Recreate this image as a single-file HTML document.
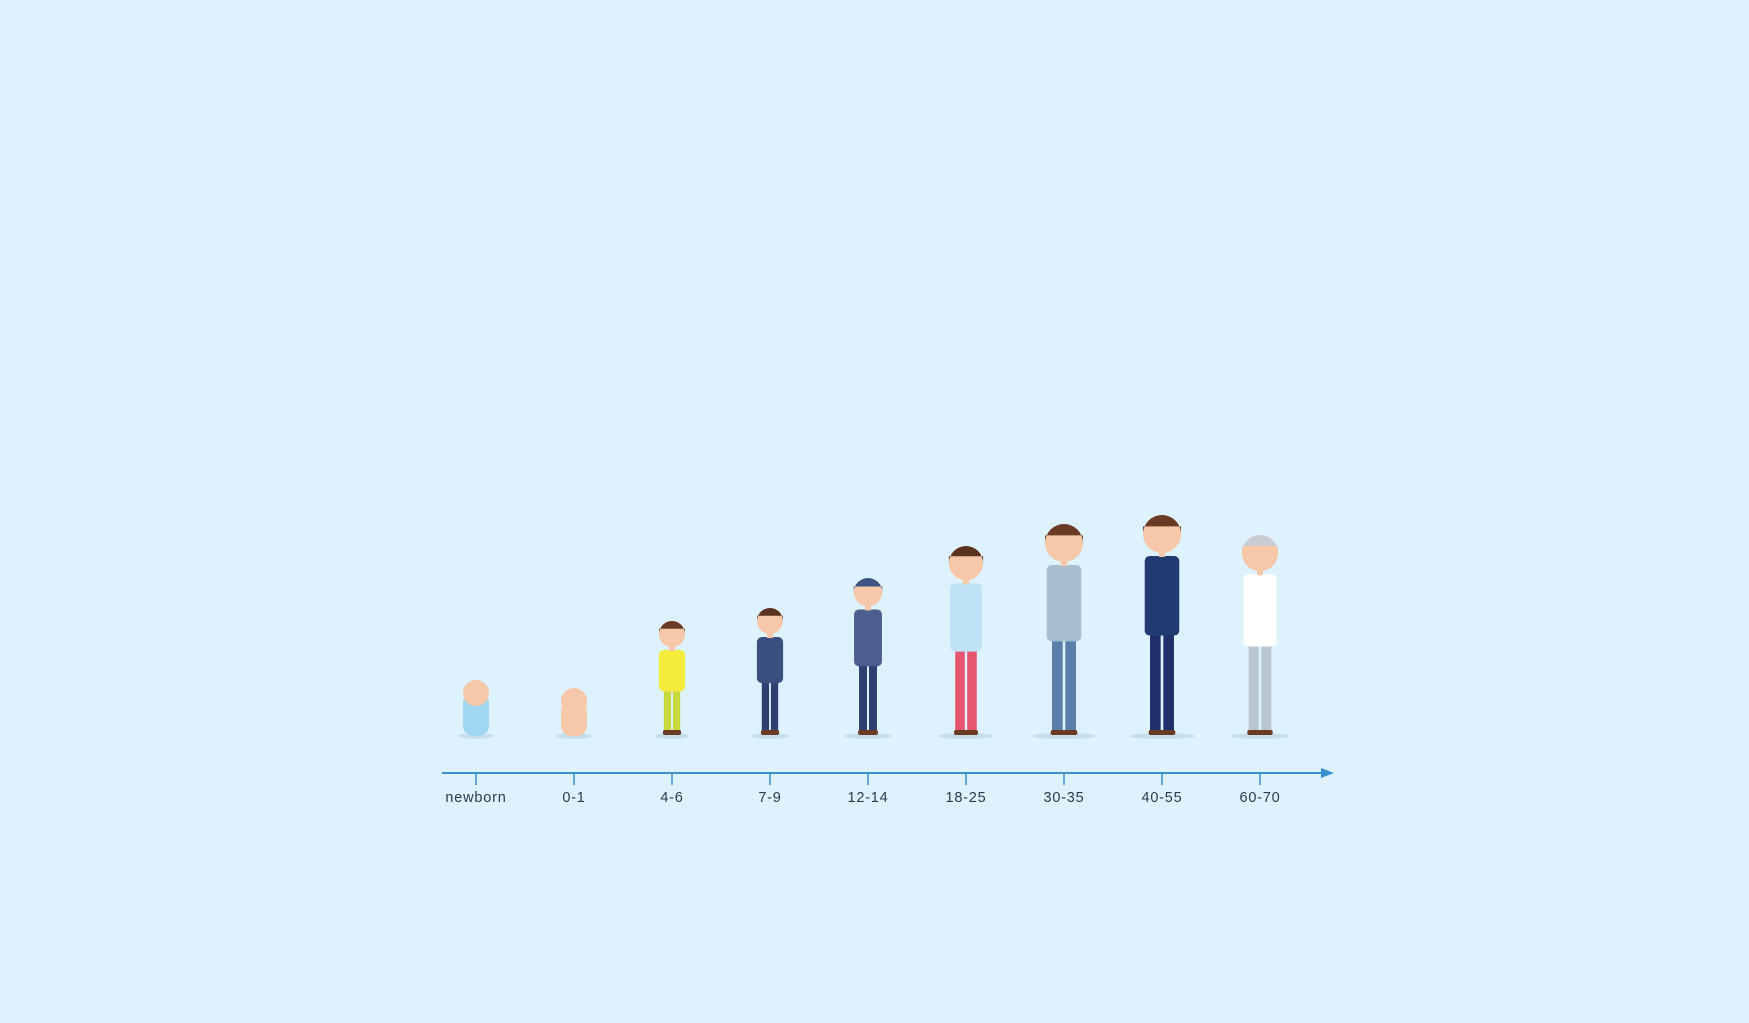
<!DOCTYPE html>
<html><head><meta charset="utf-8"><style>
html,body{margin:0;padding:0;background:#def2fd;}
svg{display:block}
text{font-family:"Liberation Sans",sans-serif;}
</style></head><body>
<svg id="chart" width="1749" height="1023" viewBox="0 0 1749 1023">
<rect x="0" y="0" width="1749" height="1023" fill="#def2fd"/>
<g id="figs"></g>
<g id="axis"></g>
</svg>
<script>
const categories=["newborn","0-1","4-6","7-9","12-14","18-25","30-35","40-55","60-70"];
const heights=[56,48,115,128,158,190,212,221,201];
const shirtColors=["#9fd6f2","#f6c7a8","#f3ec3a","#3b4f7e","#4d5f8f","#bfe3f5","#a8bfd0","#223a74","#ffffff"];
const legColors=["#9fd6f2","#f6c7a8","#c8d83a","#2f3f70","#2f3f70","#e8556f","#5a7fa8","#1f2f6a","#b9c6d0"];
const hairColors=["#f6c7a8","#f6c7a8","#6a3a24","#5a3220","#3f5685","#5a3220","#6a3a24","#6a3a24","#c9cdd2"];
const NS="http://www.w3.org/2000/svg";
const x0=476,dx=98,axisY=773,groundY=736;
const xs=i=>x0+i*dx;
const hs=v=>v;
function mk(t,a,p){const e=document.createElementNS(NS,t);for(const k in a)e.setAttribute(k,a[k]);p.appendChild(e);return e;}
const ax=document.getElementById('axis');
const line=mk('line',{x1:442,y1:axisY,x2:1326,y2:axisY,stroke:'#3a8fd0','stroke-width':2},ax);


const arr=mk('polygon',{points:`1334,${axisY} 1321,${axisY-5} 1321,${axisY+5}`,fill:'#3a8fd0'},ax);


const figs=document.getElementById('figs');
categories.forEach((c,i)=>{
  const x=xs(i);
  const t=mk('line',{x1:x,y1:axisY,x2:x,y2:axisY+12,stroke:'#3a8fd0','stroke-width':1.5},ax);
  
  
  const l=mk('text',{x:x,y:axisY+29,'text-anchor':'middle','font-size':14.5,fill:'#2b3a4c','letter-spacing':'0.8'},ax);
  l.textContent=c;
  
  
  const h=hs(heights[i]);
  const g=mk('g',{},figs);
  
  
  mk('ellipse',{cx:x,cy:groundY,rx:Math.max(18,h*0.15),ry:3,fill:'#c6dfec'},g);
  const top=groundY-h;
  const hr=Math.min(19,Math.max(13,h*0.09));
  const w=Math.max(hr*1.4,h*0.11);
  if(h<70){
    mk('rect',{x:x-hr,y:top+hr,width:hr*2,height:h-hr,rx:hr*0.8,fill:shirtColors[i]},g);
    mk('circle',{cx:x,cy:top+hr,r:hr,fill:'#f6c7a8'},g);
  }else{
    const torsoTop=top+hr*2+3, torsoH=h*0.36, legTop=torsoTop+torsoH;
    mk('rect',{x:x-w*0.45,y:legTop-2,width:w*0.4,height:groundY-legTop-3,fill:legColors[i]},g);
    mk('rect',{x:x+w*0.05,y:legTop-2,width:w*0.4,height:groundY-legTop-3,fill:legColors[i]},g);
    mk('rect',{x:x-w*0.5,y:groundY-6,width:w,height:5,rx:2,fill:'#6a3a24'},g);
    mk('rect',{x:x-w/2-4,y:torsoTop,width:w+8,height:torsoH,rx:5,fill:shirtColors[i]},g);
    mk('rect',{x:x-3,y:top+hr*2-2,width:6,height:6,fill:'#f6c7a8'},g);
    mk('circle',{cx:x,cy:top+hr,r:hr,fill:'#f6c7a8'},g);
    mk('path',{d:`M${x-hr} ${top+hr} A${hr} ${hr} 0 0 1 ${x+hr} ${top+hr} L${x+hr} ${top+hr*0.6} L${x-hr} ${top+hr*0.6}Z`,fill:hairColors[i]},g);
  }
});
</script>
</body></html>
